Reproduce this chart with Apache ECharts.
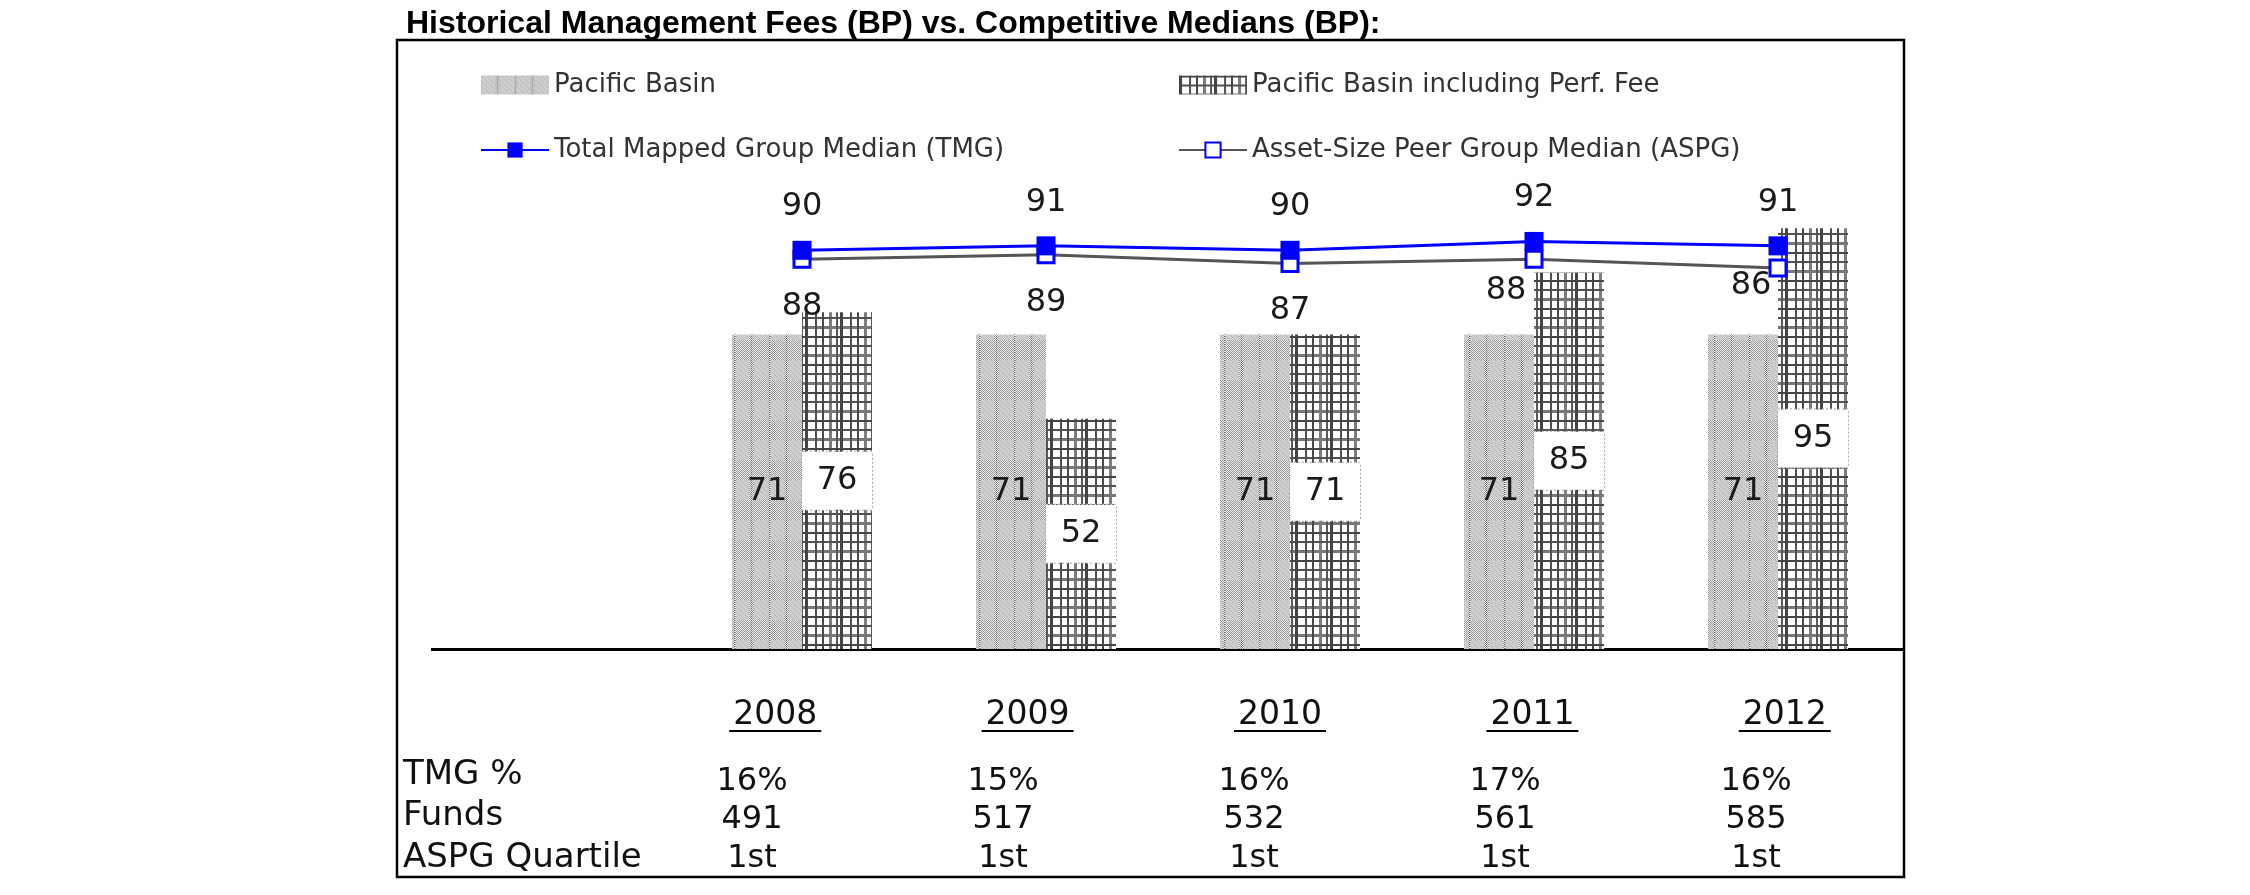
<!DOCTYPE html>
<html>
<head>
<meta charset="utf-8">
<script src="https://cdn.jsdelivr.net/npm/echarts@6/dist/echarts.min.js"></script>
<style>
html,body{margin:0;padding:0;background:#fff;}
#chart{width:2250px;height:895px;}
</style>
</head>
<body>
<div id="chart"></div>
<script>
// ---- data ----
const years = ['2008', '2009', '2010', '2011', '2012'];
const pacificBasin = [71, 71, 71, 71, 71];
const pacificBasinPerf = [76, 52, 71, 85, 95];
const tmgMedian = [90, 91, 90, 92, 91];
const aspgMedian = [88, 89, 87, 88, 86];
const tmgPct = ['16%', '15%', '16%', '17%', '16%'];
const funds = ['491', '517', '532', '561', '585'];
const aspgQuartile = ['1st', '1st', '1st', '1st', '1st'];
const rowLabels = ['TMG %', 'Funds', 'ASPG Quartile'];
const titleText = 'Historical Management Fees (BP) vs. Competitive Medians (BP):';

// ---- patterns ----
function tile(w, h, fn) {
  const c = document.createElement('canvas');
  c.width = w; c.height = h;
  const ctx = c.getContext('2d');
  const id = ctx.createImageData(w, h);
  for (let y = 0; y < h; y++) {
    for (let x = 0; x < w; x++) {
      const v = fn(x, y);
      const i = (y * w + x) * 4;
      id.data[i] = v; id.data[i + 1] = v; id.data[i + 2] = v; id.data[i + 3] = 255;
    }
  }
  ctx.putImageData(id, 0, 0);
  return c;
}
const pbTile = tile(35, 40, (x, y) => {
  if (x === 16 || x === 34) return (y % 2 === 0) ? 95 : 240;
  const inBlock = y < 20 && ((x >= 1 && x <= 13) || (x >= 19 && x <= 32));
  if (inBlock) return ((x * 7 + y * 3) % 5 === 0) ? 185 : 206;
  return ((x + y) % 2 === 0) ? 150 : 238;
});
const perfTile = tile(35, 28, (x, y) => {
  let v = 255;
  if (x <= 2) v = Math.min(v, 68);
  else if (x === 10 || x === 11) v = Math.min(v, 80);
  else if (x === 17 || x === 18) v = Math.min(v, 72);
  else if (x >= 24 && x <= 26) v = Math.min(v, 125);
  else if (x === 31 || x === 32) v = Math.min(v, 88);
  if (y <= 1) v = Math.min(v, 68);
  else if (y === 9 || y === 10) v = Math.min(v, 82);
  else if (y >= 18 && y <= 20) v = Math.min(v, 120);
  return v;
});

const FONT = 'DejaVu Sans';
const chart = echarts.init(document.getElementById('chart'), null, { renderer: 'canvas' });

const aspgLabelShift = [[0, 0], [0, 0], [0, 0], [-28, -16], [-27, -30]];

const legendText = { fontFamily: FONT, fontSize: 26, color: '#333', lineHeight: 30 };
const option = {
  animation: false,
  backgroundColor: '#fff',
  title: {
    text: titleText,
    left: 406, top: 8, padding: 0,
    textStyle: { fontFamily: 'Liberation Sans', fontWeight: 'bold', fontSize: 32, color: '#000' }
  },
  legend: [
    {
      orient: 'vertical', left: 480, top: 70, itemWidth: 68, itemHeight: 19, itemGap: 35,
      selectedMode: false, padding: 0, textStyle: legendText,
      data: [{ name: 'Pacific Basin', icon: 'rect' }, { name: 'Total Mapped Group Median (TMG)' }]
    },
    {
      orient: 'vertical', left: 1178, top: 70, itemWidth: 68, itemHeight: 19, itemGap: 35,
      selectedMode: false, padding: 0, textStyle: legendText,
      data: [{ name: 'Pacific Basin including Perf. Fee', icon: 'rect' }, { name: 'Asset-Size Peer Group Median (ASPG)' }]
    }
  ],
  grid: [
    { left: 680, right: 350, top: 206, bottom: 246 },
    { left: 649, right: 339, top: 650, height: 30 },
    { left: 626.5, right: 368.5, top: 722, height: 30 }
  ],
  xAxis: [
    { type: 'category', gridIndex: 0, data: years, axisLine: { show: false }, axisTick: { show: false }, axisLabel: { show: false } },
    {
      type: 'category', gridIndex: 1, data: years, axisLine: { show: false }, axisTick: { show: false },
      axisLabel: {
        margin: 20,
        formatter: v => '{y|' + v + '}\n{u|}',
        rich: {
          y: { fontFamily: FONT, fontSize: 33, lineHeight: 30, color: '#111' },
          u: { width: 92, height: 2, lineHeight: 2, backgroundColor: '#000' }
        }
      }
    },
    {
      type: 'category', gridIndex: 2, data: years, axisLine: { show: false }, axisTick: { show: false },
      axisLabel: {
        margin: 10,
        formatter: (v, i) => '{v|' + tmgPct[i] + '}\n{v|' + funds[i] + '}\n{v|' + aspgQuartile[i] + '}',
        rich: { v: { fontFamily: FONT, fontSize: 32, lineHeight: 38.5, color: '#111' } }
      }
    }
  ],
  yAxis: [
    { type: 'value', gridIndex: 0, min: 0, max: 100, show: false },
    { type: 'value', gridIndex: 1, show: false },
    { type: 'value', gridIndex: 2, show: false }
  ],
  series: [
    {
      name: 'Pacific Basin', type: 'bar', xAxisIndex: 0, yAxisIndex: 0,
      data: pacificBasin, barWidth: 70, barGap: '0%',
      itemStyle: { color: { image: pbTile, repeat: 'repeat' } },
      label: { show: true, position: 'inside', fontFamily: FONT, fontSize: 32, color: '#1a1a1a', textBorderWidth: 0 }
    },
    {
      name: 'Pacific Basin including Perf. Fee', type: 'bar', xAxisIndex: 0, yAxisIndex: 0,
      data: pacificBasinPerf, barWidth: 70, barGap: '0%',
      itemStyle: { color: { image: perfTile, repeat: 'repeat' } },
      label: {
        show: true, position: 'inside', fontFamily: FONT, fontSize: 32, color: '#1a1a1a', textBorderWidth: 0,
        backgroundColor: '#fff', width: 70, align: 'center', lineHeight: 34, padding: [12, 0],
        borderColor: '#aaa', borderWidth: 1, borderType: 'dotted'
      }
    },
    {
      name: 'Asset-Size Peer Group Median (ASPG)', type: 'line', xAxisIndex: 0, yAxisIndex: 0,
      data: aspgMedian.map((v, i) => ({
        value: v,
        label: { offset: aspgLabelShift[i] }
      })),
      symbol: 'rect', symbolSize: 16,
      itemStyle: { color: '#fff', borderColor: '#0000ff', borderWidth: 3 },
      lineStyle: { color: '#555', width: 3 },
      label: { show: true, position: 'bottom', distance: 21, fontFamily: FONT, fontSize: 32, lineHeight: 34, color: '#1a1a1a' }
    },
    {
      name: 'Total Mapped Group Median (TMG)', type: 'line', xAxisIndex: 0, yAxisIndex: 0,
      data: tmgMedian, symbol: 'rect', symbolSize: 19,
      itemStyle: { color: '#0000ff' },
      lineStyle: { color: '#0000ff', width: 3 },
      label: { show: true, position: 'top', distance: 17, fontFamily: FONT, fontSize: 32, lineHeight: 34, color: '#1a1a1a' }
    }
  ],
  graphic: [
    { type: 'rect', shape: { x: 397, y: 40, width: 1507, height: 837 }, style: { fill: 'none', stroke: '#000', lineWidth: 2.5 }, silent: true },
    { type: 'line', shape: { x1: 431, y1: 649.5, x2: 1904, y2: 649.5 }, style: { stroke: '#000', lineWidth: 3 }, silent: true }
  ].concat(rowLabels.map((t, i) => ({
    type: 'text', left: 403, top: 776 + i * 41.5 - 18,
    style: { text: t, fontFamily: FONT, fontSize: 34, fill: '#111' }, silent: true
  })))
};
chart.setOption(option);
</script>
</body>
</html>
